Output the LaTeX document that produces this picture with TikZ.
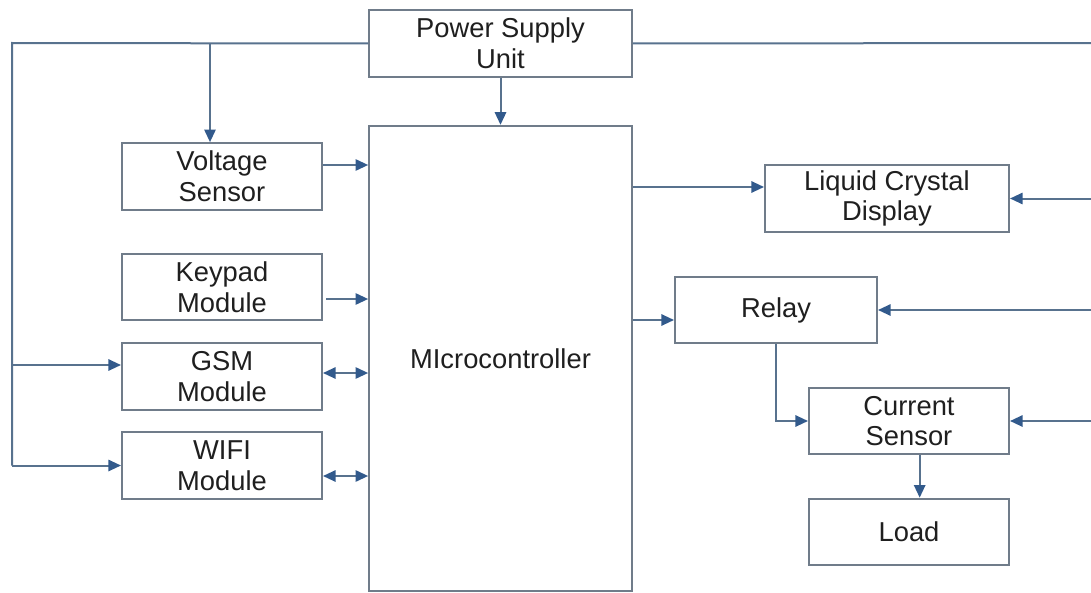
\documentclass[tikz,border=0pt]{standalone}
\usepackage{fontspec}
\setmainfont{Liberation Sans}
\usetikzlibrary{arrows.meta,positioning,calc}
\definecolor{BoxGray}{RGB}{112,124,138}
\definecolor{LinkBlue}{RGB}{88,114,142}
\definecolor{TipBlue}{RGB}{50,90,140}

\tikzset{
  block/.style={draw=BoxGray, line width=1.5pt, fill=white, inner sep=0pt,
    minimum width=150pt, minimum height=50pt, align=center, text=black!88,
    font=\fontsize{20.5}{23}\selectfont},
  link/.style={draw=LinkBlue, line width=1.5pt},
  arr/.style={link, -{Triangle[length=9.5pt,width=8.5pt,color=TipBlue]}},
  darr/.style={link, {Triangle[length=9.5pt,width=8.5pt,color=TipBlue]}-{Triangle[length=9.5pt,width=8.5pt,color=TipBlue]}}
}

\begin{document}
\begin{tikzpicture}[x=0.75pt,y=-0.75pt]
  \useasboundingbox (0,0) rectangle (1091,592);

  % blocks
  \node[block, minimum width=197pt] (psu) at (500.5,43.5) {Power Supply\\Unit};
  \node[block, minimum width=197pt, minimum height=349pt] (mcu) at (500.5,358.5) {MIcrocontroller};
  \node[block] (volt) at (222,176.5) {Voltage\\Sensor};
  \node[block] (keypad) at (222,287) {Keypad\\Module};
  \node[block] (gsm) at (222,376.5) {GSM\\Module};
  \node[block] (wifi) at (222,465.5) {WIFI\\Module};
  \node[block, minimum width=183pt] (lcd) at (887,198.5) {Liquid Crystal\\Display};
  \node[block, minimum width=151.5pt] (relay) at (776,310) {Relay};
  \node[block] (cur) at (909,421) {Current\\Sensor};
  \node[block] (load) at (909,532) {Load};

  % supply rails
  \coordinate (railL) at (12,43);
  \coordinate (railR) at (1095,43);
  \draw[link] (psu.west) -- (railL) -- (railL |- wifi.west);
  \draw[arr] (railL |- wifi.west) -- (wifi.west);
  \draw[arr] (12,365) -- (gsm.west |- 0,365);
  \draw[arr] (210,43) -- (volt.north -| 210,0);
  \draw[link] (psu.east) -- (railR) -- (railR |- cur.east);
  \draw[arr] (railR |- cur.east) -- (cur.east);
  \draw[arr] (railR |- lcd.east) -- (lcd.east);
  \draw[arr] (railR |- relay.east) -- (relay.east);
  \draw[arr] (psu.south) -- (mcu.north);

  % inputs to the controller
  \draw[arr] (volt.east |- 0,165) -- (mcu.west |- 0,165);
  \draw[arr] (326,299) -- (mcu.west |- 0,299);
  \draw[darr] (gsm.east |- 0,373) -- (mcu.west |- 0,373);
  \draw[darr] (wifi.east |- 0,476) -- (mcu.west |- 0,476);

  % outputs
  \draw[arr] (mcu.east |- 0,187) -- (lcd.west |- 0,187);
  \draw[arr] (mcu.east |- 0,320) -- (relay.west |- 0,320);
  \draw[arr] (relay.south) |- (cur.west);
  \draw[arr] ([xshift=8pt]cur.south) -- ([xshift=8pt]load.north);
\end{tikzpicture}
\end{document}
